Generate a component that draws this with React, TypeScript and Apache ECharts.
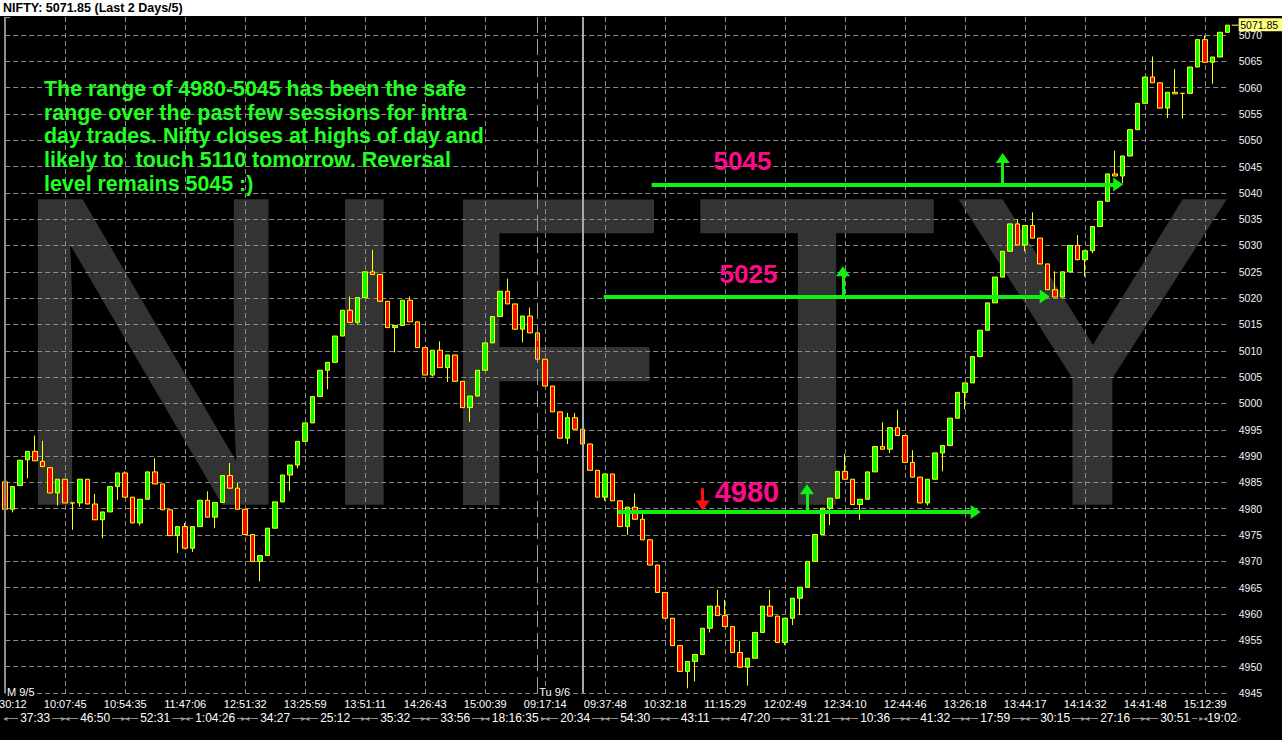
import React, { useEffect, useRef } from "react";
import * as echarts from "echarts";

// ---- OHLC data (bar index order, ~5-minute bars over two sessions) ----
const opens = [
  4985.1, 4979.9, 4984.4, 4989.3, 4990.9, 4989.0, 4987.8, 4983.0, 4985.6, 4981.1,
  4981.1, 4985.6, 4980.9, 4977.9, 4979.4, 4984.2, 4986.8, 4982.2, 4977.3, 4981.8,
  4987.0, 4984.7, 4979.8, 4974.9, 4976.6, 4972.5, 4976.6, 4981.6, 4978.4, 4981.2,
  4986.3, 4983.9, 4979.9, 4975.1, 4970.0, 4971.1, 4976.3, 4981.3, 4986.4, 4988.3,
  4992.8, 4996.3, 5001.3, 5006.3, 5007.8, 5012.8, 5017.7, 5015.4, 5020.1, 5025.0,
  5024.5, 5019.4, 5014.4, 5014.8, 5019.6, 5015.5, 5010.6, 5005.4, 5010.1, 5006.8,
  5009.2, 5004.2, 4999.2, 5001.4, 5006.3, 5011.5, 5016.5, 5021.3, 5018.9, 5014.1,
  5016.6, 5013.4, 5008.4, 5003.3, 4998.4, 4993.4, 4997.3, 4995.1, 4992.3, 4987.3,
  4982.2, 4986.6, 4981.5, 4976.6, 4980.3, 4978.0, 4974.1, 4969.3, 4964.1, 4959.2,
  4954.0, 4949.1, 4951.0, 4952.3, 4957.3, 4961.5, 4959.7, 4957.6, 4952.7, 4949.9,
  4951.6, 4956.5, 4961.5, 4959.6, 4954.6, 4959.2, 4963.0, 4965.1, 4970.0, 4975.1,
  4980.1, 4982.0, 4987.1, 4985.6, 4980.8, 4981.8, 4987.0, 4991.8, 4991.3, 4995.4,
  4993.9, 4988.8, 4986.0, 4981.1, 4985.6, 4990.6, 4992.0, 4997.2, 5002.1, 5003.9,
  5008.9, 5013.9, 5019.1, 5024.0, 5028.9, 5034.1, 5030.1, 5033.8, 5031.4, 5026.5,
  5021.6, 5020.2, 5025.0, 5030.0, 5027.3, 5029.0, 5033.6, 5038.4, 5043.6, 5043.2,
  5047.0, 5052.0, 5057.0, 5062.0, 5060.9, 5056.1, 5059.1, 5058.9, 5058.9, 5063.9,
  5069.1, 5064.8, 5065.8, 5070.5,
];
const closes = [
  4979.9, 4984.2, 4989.2, 4990.9, 4989.1, 4988.0, 4983.0, 4985.6, 4981.1, 4981.1,
  4985.6, 4980.9, 4977.9, 4979.4, 4984.2, 4986.8, 4982.2, 4977.3, 4981.8, 4987.0,
  4984.7, 4979.8, 4974.9, 4976.6, 4972.5, 4976.6, 4981.6, 4978.4, 4981.2, 4986.3,
  4983.9, 4979.9, 4975.1, 4970.0, 4971.1, 4976.3, 4981.3, 4986.4, 4988.3, 4992.8,
  4996.3, 5001.3, 5006.3, 5007.8, 5012.8, 5017.7, 5015.4, 5020.1, 5025.0, 5024.5,
  5019.4, 5014.4, 5014.8, 5019.6, 5015.5, 5010.6, 5005.4, 5010.1, 5006.8, 5009.2,
  5004.2, 4999.2, 5001.4, 5006.3, 5011.5, 5016.5, 5021.3, 5018.9, 5014.1, 5016.6,
  5013.4, 5008.4, 5003.3, 4998.4, 4993.4, 4997.3, 4995.1, 4992.3, 4987.3, 4982.2,
  4986.6, 4981.5, 4976.6, 4980.3, 4978.0, 4974.1, 4969.3, 4964.1, 4959.2, 4954.0,
  4949.1, 4951.0, 4952.3, 4957.3, 4961.5, 4959.7, 4957.6, 4952.7, 4949.9, 4951.6,
  4956.5, 4961.5, 4959.6, 4954.6, 4959.2, 4963.0, 4965.1, 4970.0, 4975.1, 4980.1,
  4982.0, 4987.1, 4985.6, 4980.8, 4981.8, 4987.0, 4991.8, 4991.3, 4995.4, 4993.9,
  4988.8, 4986.0, 4981.1, 4985.6, 4990.6, 4992.0, 4997.2, 5002.1, 5003.9, 5008.9,
  5013.9, 5019.1, 5024.0, 5028.9, 5034.1, 5030.1, 5033.8, 5031.4, 5026.5, 5021.6,
  5020.2, 5025.0, 5030.0, 5027.3, 5029.0, 5033.6, 5038.4, 5043.6, 5043.2, 5047.0,
  5052.0, 5057.0, 5062.0, 5060.9, 5056.1, 5059.1, 5058.8, 5058.9, 5063.9, 5069.1,
  5064.8, 5065.8, 5070.5, 5071.85,
];
const lows = [
  4979.9, 4979.3, 4984.4, 4985.8, 4989.1, 4988.0, 4983.0, 4980.6, 4981.1, 4976.0,
  4980.4, 4980.9, 4977.9, 4974.4, 4979.4, 4981.7, 4982.2, 4977.3, 4976.8, 4981.8,
  4984.7, 4979.8, 4974.9, 4971.6, 4972.5, 4971.8, 4976.6, 4978.4, 4976.3, 4981.2,
  4983.9, 4979.9, 4975.1, 4970.0, 4966.2, 4971.1, 4976.3, 4981.3, 4983.3, 4987.7,
  4992.8, 4996.3, 5001.3, 5002.7, 5007.8, 5012.8, 5015.4, 5015.0, 5020.1, 5024.5,
  5019.4, 5014.4, 5009.7, 5014.8, 5015.5, 5010.6, 5005.4, 5005.1, 5006.8, 5004.1,
  5004.2, 4999.2, 4996.5, 5001.4, 5006.3, 5011.5, 5016.5, 5018.9, 5014.1, 5011.6,
  5013.4, 5008.4, 5003.3, 4998.4, 4993.4, 4992.3, 4995.1, 4992.3, 4987.3, 4982.2,
  4981.5, 4981.5, 4976.6, 4975.0, 4978.0, 4974.1, 4969.3, 4964.1, 4959.2, 4954.0,
  4949.1, 4945.9, 4947.2, 4952.3, 4956.5, 4959.7, 4957.6, 4952.7, 4949.9, 4946.4,
  4951.6, 4956.5, 4959.6, 4954.6, 4954.1, 4957.9, 4959.8, 4965.1, 4970.0, 4975.1,
  4976.9, 4982.0, 4985.6, 4980.8, 4977.9, 4981.8, 4987.0, 4991.3, 4990.6, 4993.9,
  4988.8, 4986.0, 4981.1, 4980.6, 4985.6, 4987.1, 4992.0, 4997.2, 4998.9, 5003.9,
  5008.9, 5013.9, 5019.1, 5024.0, 5028.9, 5030.1, 5028.9, 5031.4, 5026.5, 5021.6,
  5020.2, 5020.2, 5025.0, 5027.3, 5024.1, 5028.5, 5033.6, 5038.4, 5043.2, 5041.8,
  5047.0, 5052.0, 5057.0, 5060.9, 5056.1, 5054.2, 5058.8, 5054.1, 5058.9, 5063.9,
  5064.8, 5060.7, 5065.8, 5070.5,
];
const highs = [
  4985.1, 4984.2, 4989.2, 4990.9, 4993.9, 4992.9, 4987.8, 4985.6, 4985.6, 4981.1,
  4985.6, 4985.6, 4982.8, 4979.4, 4984.2, 4986.8, 4987.1, 4982.2, 4981.8, 4987.0,
  4989.6, 4984.7, 4979.8, 4976.6, 4977.3, 4976.6, 4981.6, 4983.3, 4981.2, 4986.3,
  4988.7, 4984.9, 4979.9, 4975.1, 4971.1, 4976.3, 4981.3, 4986.4, 4988.3, 4992.8,
  4996.3, 5001.3, 5006.3, 5007.8, 5012.8, 5017.7, 5020.3, 5020.1, 5025.0, 5029.2,
  5024.5, 5019.4, 5014.8, 5019.6, 5020.3, 5015.5, 5010.6, 5010.1, 5011.8, 5009.2,
  5009.2, 5004.2, 5001.4, 5006.3, 5011.5, 5016.5, 5021.3, 5023.7, 5018.9, 5016.6,
  5018.2, 5013.4, 5008.4, 5003.3, 4998.4, 4998.2, 4998.2, 4997.2, 4992.3, 4987.3,
  4986.6, 4986.6, 4981.5, 4980.3, 4982.9, 4979.0, 4974.1, 4969.3, 4964.1, 4959.2,
  4954.0, 4951.0, 4952.3, 4957.3, 4961.5, 4964.6, 4962.7, 4957.6, 4954.9, 4951.6,
  4956.5, 4961.5, 4964.6, 4959.6, 4959.2, 4963.0, 4965.1, 4970.0, 4975.1, 4980.1,
  4982.0, 4987.1, 4990.4, 4985.6, 4981.8, 4987.0, 4991.8, 4996.4, 4995.4, 4998.8,
  4993.9, 4991.1, 4986.0, 4985.6, 4990.6, 4992.0, 4997.2, 5002.1, 5003.9, 5008.9,
  5013.9, 5019.1, 5024.0, 5028.9, 5034.1, 5035.0, 5033.8, 5036.3, 5031.4, 5026.5,
  5025.1, 5025.0, 5030.0, 5032.0, 5029.0, 5033.6, 5038.4, 5043.6, 5048.0, 5047.0,
  5052.0, 5057.0, 5062.0, 5065.9, 5060.9, 5059.1, 5063.5, 5058.9, 5063.9, 5069.1,
  5069.9, 5065.8, 5070.5, 5071.85,
];

// ---- axis tick labels ----
const timeLabels = [
  "09:30:12", "10:07:45", "10:54:35", "11:47:06", "12:51:32", "13:25:59", "13:51:11",
  "14:26:43", "15:00:39", "09:17:14", "09:37:48", "10:32:18", "11:15:29", "12:02:49",
  "12:34:10", "12:44:46", "13:26:18", "13:44:17", "14:14:32", "14:41:48", "15:12:39",
];
const durationLabels = [
  "37:33", "46:50", "52:31", "1:04:26", "34:27", "25:12", "35:32", "33:56", "18:16:35",
  "20:34", "54:30", "43:11", "47:20", "31:21", "10:36", "41:32", "17:59", "30:15",
  "27:16", "30:51", "19:02",
];
const LABEL_EVERY = 8;
const dayLabels = ["M 9/5", "Tu 9/6"];
const sessionStartIndex = 77; // first bar of Tu 9/6
const preOpenMarkerIndex = 71;

// ---- hand-drawn level annotations (bar index, price) ----
const levelTexts = ["5045", "5025", "4980"];
const levelTextX = [98.3, 99.1, 98.9];
const levelTextY = [5046.1, 5024.5, 4983.2];
const levelTextSize = [26, 26, 29];
const levelLineStartX = [86.2, 79.8, 81.7];
const levelLineEndX = [148.4, 138.6, 129.4];
const levelLineY = [5041.6, 5020.3, 4979.4];
const upArrowX = [133.0, 111.7, 106.9];
const upArrowTopY = [5046.6, 5025.1, 4983.7];
const downArrowX = [93.0];
const downArrowFromY = [4983.9];
const downArrowToY = [4980.6];

const commentary = [
  "The range of 4980-5045 has been the safe",
  "range over the past few sessions for intra",
  "day trades. Nifty closes at highs of day and",
  "likely to  touch 5110 tomorrow. Reversal",
  "level remains 5045 :)",
];

// ---- background watermark ----
const watermarkLetters = ["N", "I", "F", "T", "Y"];
const watermarkLeft = [4, 307, 431, 691, 949];
const watermarkScale = [0.93, 0.93, 0.88, 0.93, 0.97];

const FONT = '"Liberation Sans", Arial, sans-serif';
const W = 1282;
const H = 740;
const GRID = { left: 5.2, right: 54.3, top: 17, bottom: 47 };
const Y_MIN = 4945;
const Y_MAX = 5073.4;
const GRID_COLOR = "#8a8a8a";

export default function App() {
  const ref = useRef<HTMLDivElement>(null);

  useEffect(() => {
    if (!ref.current) return;
    const chart = echarts.init(ref.current, null, { renderer: "svg" });
    const n = opens.length;
    const categories = opens.map((_, i) => String(i));
    const candles = opens.map((o, i) => [o, closes[i], lows[i], highs[i]]);
    const lastClose = closes[n - 1];
    const lastGridIndex = Math.floor((n - 1) / LABEL_EVERY) * LABEL_EVERY;

    const durIndex = (i: number) => {
      if ((i - LABEL_EVERY / 2) % LABEL_EVERY === 0) {
        const k = (i - LABEL_EVERY / 2) / LABEL_EVERY;
        if (k >= 0 && k < durationLabels.length) return k;
      }
      if (i === n - 2) return durationLabels.length - 1;
      return -1;
    };

    const green = "#12F012";
    const annLines: any[] = [];
    levelLineY.forEach((y, i) => {
      annLines.push([
        { coord: [levelLineStartX[i], y], lineStyle: { color: green, width: 4, type: "solid" } },
        { coord: [levelLineEndX[i], y] },
      ]);
      annLines.push([
        { coord: [upArrowX[i], y], lineStyle: { color: green, width: 3, type: "solid" } },
        { coord: [upArrowX[i], upArrowTopY[i]] },
      ]);
    });
    downArrowX.forEach((x, i) => {
      annLines.push([
        { coord: [x, downArrowFromY[i]], lineStyle: { color: "#FF1010", width: 3, type: "solid" } },
        { coord: [x, downArrowToY[i]], itemStyle: { color: "#FF1010" } },
      ]);
    });

    const option: any = {
      animation: false,
      backgroundColor: "#000000",
      grid: {
        left: GRID.left,
        right: GRID.right,
        top: GRID.top,
        bottom: GRID.bottom,
        containLabel: false,
        outerBoundsMode: "none",
      },
      xAxis: [
        {
          type: "category",
          data: categories,
          boundaryGap: false,
          axisLine: { show: false },
          axisTick: { show: false },
          axisLabel: {
            interval: (i: number) => i % LABEL_EVERY === 0,
            formatter: (_v: string, i: number) => timeLabels[i / LABEL_EVERY] ?? "",
            color: "#FFFFFF",
            fontSize: 11,
            fontFamily: FONT,
            margin: 5,
          },
          splitLine: {
            show: true,
            interval: (i: number) => i % LABEL_EVERY === 0,
            lineStyle: { color: GRID_COLOR, width: 1, type: [5, 3] },
          },
        },
        {
          type: "category",
          data: categories,
          boundaryGap: false,
          position: "bottom",
          offset: 25,
          axisLine: { show: true, lineStyle: { color: "#8c8c8c", width: 1 } },
          axisTick: { show: false },
          splitLine: { show: false },
          axisLabel: {
            interval: (i: number) => durIndex(i) >= 0,
            formatter: (_v: string, i: number) => {
              const k = durIndex(i);
              if (k < 0) return "";
              return k === durationLabels.length - 1
                ? "{b|▸◂}" + durationLabels[k] + "{a|▹}"
                : durationLabels[k];
            },
            color: "#FFFFFF",
            fontSize: 12,
            fontFamily: FONT,
            margin: 0,
            verticalAlign: "middle",
            backgroundColor: "#000000",
            padding: [0, 2],
            rich: {
              a: { color: "#9a9a9a", fontSize: 8, fontFamily: "DejaVu Sans" },
              b: { color: "#9a9a9a", fontSize: 8, fontFamily: "DejaVu Sans" },
            },
          },
        },
        {
          type: "category",
          data: categories,
          boundaryGap: false,
          position: "bottom",
          offset: 25,
          axisLine: { show: false },
          axisTick: { show: false },
          splitLine: { show: false },
          axisLabel: {
            interval: (i: number) => i % LABEL_EVERY === 0 && i !== lastGridIndex,
            formatter: (_v: string, i: number) => (i === 0 ? "◂" : "▸◂"),
            color: "#9a9a9a",
            fontSize: 8,
            fontFamily: "DejaVu Sans",
            margin: 0,
            verticalAlign: "middle",
          },
        },
        { type: "value", min: 0, max: n - 1, show: false },
      ],
      yAxis: [
        {
          type: "value",
          position: "right",
          min: Y_MIN,
          max: Y_MAX,
          interval: 5,
          axisLine: { show: false },
          axisTick: { show: true, length: 7, lineStyle: { color: GRID_COLOR, type: [5, 3] } },
          axisLabel: {
            color: "#EEF0FF",
            fontSize: 10.5,
            fontFamily: FONT,
            margin: 11,
            formatter: (v: number) => (Math.abs(v - Math.round(v / 5) * 5) < 1e-6 ? String(v) : ""),
          },
          splitLine: {
            show: true,
            showMaxLine: false,
            lineStyle: { color: GRID_COLOR, width: 1, type: [5, 3] },
          },
        },
      ],
      series: [
        {
          name: "NIFTY",
          type: "candlestick",
          xAxisIndex: 0,
          yAxisIndex: 0,
          data: candles,
          barWidth: 5,
          clip: false,
          silent: true,
          itemStyle: {
            color: "#00FF00",
            color0: "#FF0000",
            borderColor: "#FFFF00",
            borderColor0: "#FFFF00",
            borderColorDoji: "#FFFF00",
            borderWidth: 1,
          },
          markLine: {
            silent: true,
            symbol: ["none", "none"],
            label: { show: false },
            animation: false,
            data: [
              { xAxis: "0", lineStyle: { color: "#8c8c8c", width: 2, type: "solid" } },
              { xAxis: String(preOpenMarkerIndex), lineStyle: { color: "#a0a0a0", width: 1, type: [16, 6] } },
              { xAxis: String(sessionStartIndex), lineStyle: { color: "#a8a8a8", width: 2, type: "solid" } },
            ],
          },
        },
        {
          name: "levels",
          type: "line",
          xAxisIndex: 3,
          yAxisIndex: 0,
          data: [],
          silent: true,
          markLine: {
            silent: true,
            symbol: ["none", "triangle"],
            symbolSize: [14, 10],
            label: { show: false },
            animation: false,
            itemStyle: { color: green },
            lineStyle: { color: green, width: 4, type: "solid" },
            data: annLines,
          },
        },
      ],
    };

    chart.setOption(option);
    const yPix = chart.convertToPixel({ yAxisIndex: 0 }, lastClose) as number;
    const plotRight = W - GRID.right;

    const levelTextEls = levelTexts.map((t, i) => {
      const p = chart.convertToPixel({ xAxisIndex: 3, yAxisIndex: 0 }, [levelTextX[i], levelTextY[i]]) as number[];
      return {
        type: "text",
        z: 30,
        x: p[0],
        y: p[1],
        style: {
          text: t,
          fill: "#FF0A8C",
          fontSize: levelTextSize[i],
          fontWeight: "bold",
          fontFamily: FONT,
          align: "center",
          verticalAlign: "middle",
        },
      };
    });

    const watermarkEls = watermarkLetters.map((ch, i) => ({
      type: "text",
      z: -1,
      silent: true,
      x: watermarkLeft[i],
      y: 351,
      scaleX: watermarkScale[i],
      style: { text: ch, fill: "#333333", fontSize: 444, fontFamily: FONT, verticalAlign: "middle" },
    }));

    chart.setOption({
      graphic: {
        elements: [
          ...watermarkEls,
          { type: "rect", z: 50, shape: { x: 0, y: 0, width: W, height: 16 }, style: { fill: "#FFFFFF" } },
          {
            type: "text",
            z: 51,
            x: 3,
            y: 8,
            style: {
              text: `NIFTY: ${lastClose.toFixed(2)} (Last 2 Days/5)`,
              fill: "#000000",
              fontSize: 12.5,
              fontWeight: "bold",
              fontFamily: FONT,
              verticalAlign: "middle",
            },
          },
          {
            type: "text",
            z: 20,
            x: 44,
            y: 77,
            style: {
              text: commentary.join("\n"),
              fill: "#22FF22",
              fontSize: 21.4,
              fontWeight: "bold",
              fontFamily: FONT,
              lineHeight: 23.7,
              verticalAlign: "top",
            },
          },
          ...levelTextEls,
          {
            type: "text",
            z: 20,
            x: 6,
            y: 692,
            style: {
              text: dayLabels[0],
              fill: "#FFFFFF",
              fontSize: 11,
              fontFamily: FONT,
              verticalAlign: "middle",
              backgroundColor: "#000000",
              padding: [0, 1],
            },
          },
          {
            type: "text",
            z: 20,
            x: 571,
            y: 692,
            style: {
              text: dayLabels[1],
              fill: "#FFFFFF",
              fontSize: 11,
              fontFamily: FONT,
              align: "right",
              verticalAlign: "middle",
              backgroundColor: "#000000",
              padding: [0, 1],
            },
          },
          {
            type: "line",
            z: 20,
            shape: { x1: plotRight + 4, y1: yPix, x2: plotRight + 11, y2: yPix },
            style: { stroke: "#FFFF60", lineWidth: 1 },
          },
          {
            type: "rect",
            z: 21,
            shape: { x: plotRight + 11, y: yPix - 7, width: W - plotRight - 11, height: 13 },
            style: { fill: "#FFFF80" },
          },
          {
            type: "text",
            z: 22,
            x: plotRight + 12.5,
            y: yPix,
            style: {
              text: lastClose.toFixed(2),
              fill: "#000000",
              fontSize: 10.5,
              fontFamily: FONT,
              verticalAlign: "middle",
            },
          },
        ],
      },
    });

    return () => chart.dispose();
  }, []);

  return (
    <div
      ref={ref}
      style={{ position: "absolute", left: 0, top: 0, width: W, height: H, background: "#000" }}
    />
  );
}
